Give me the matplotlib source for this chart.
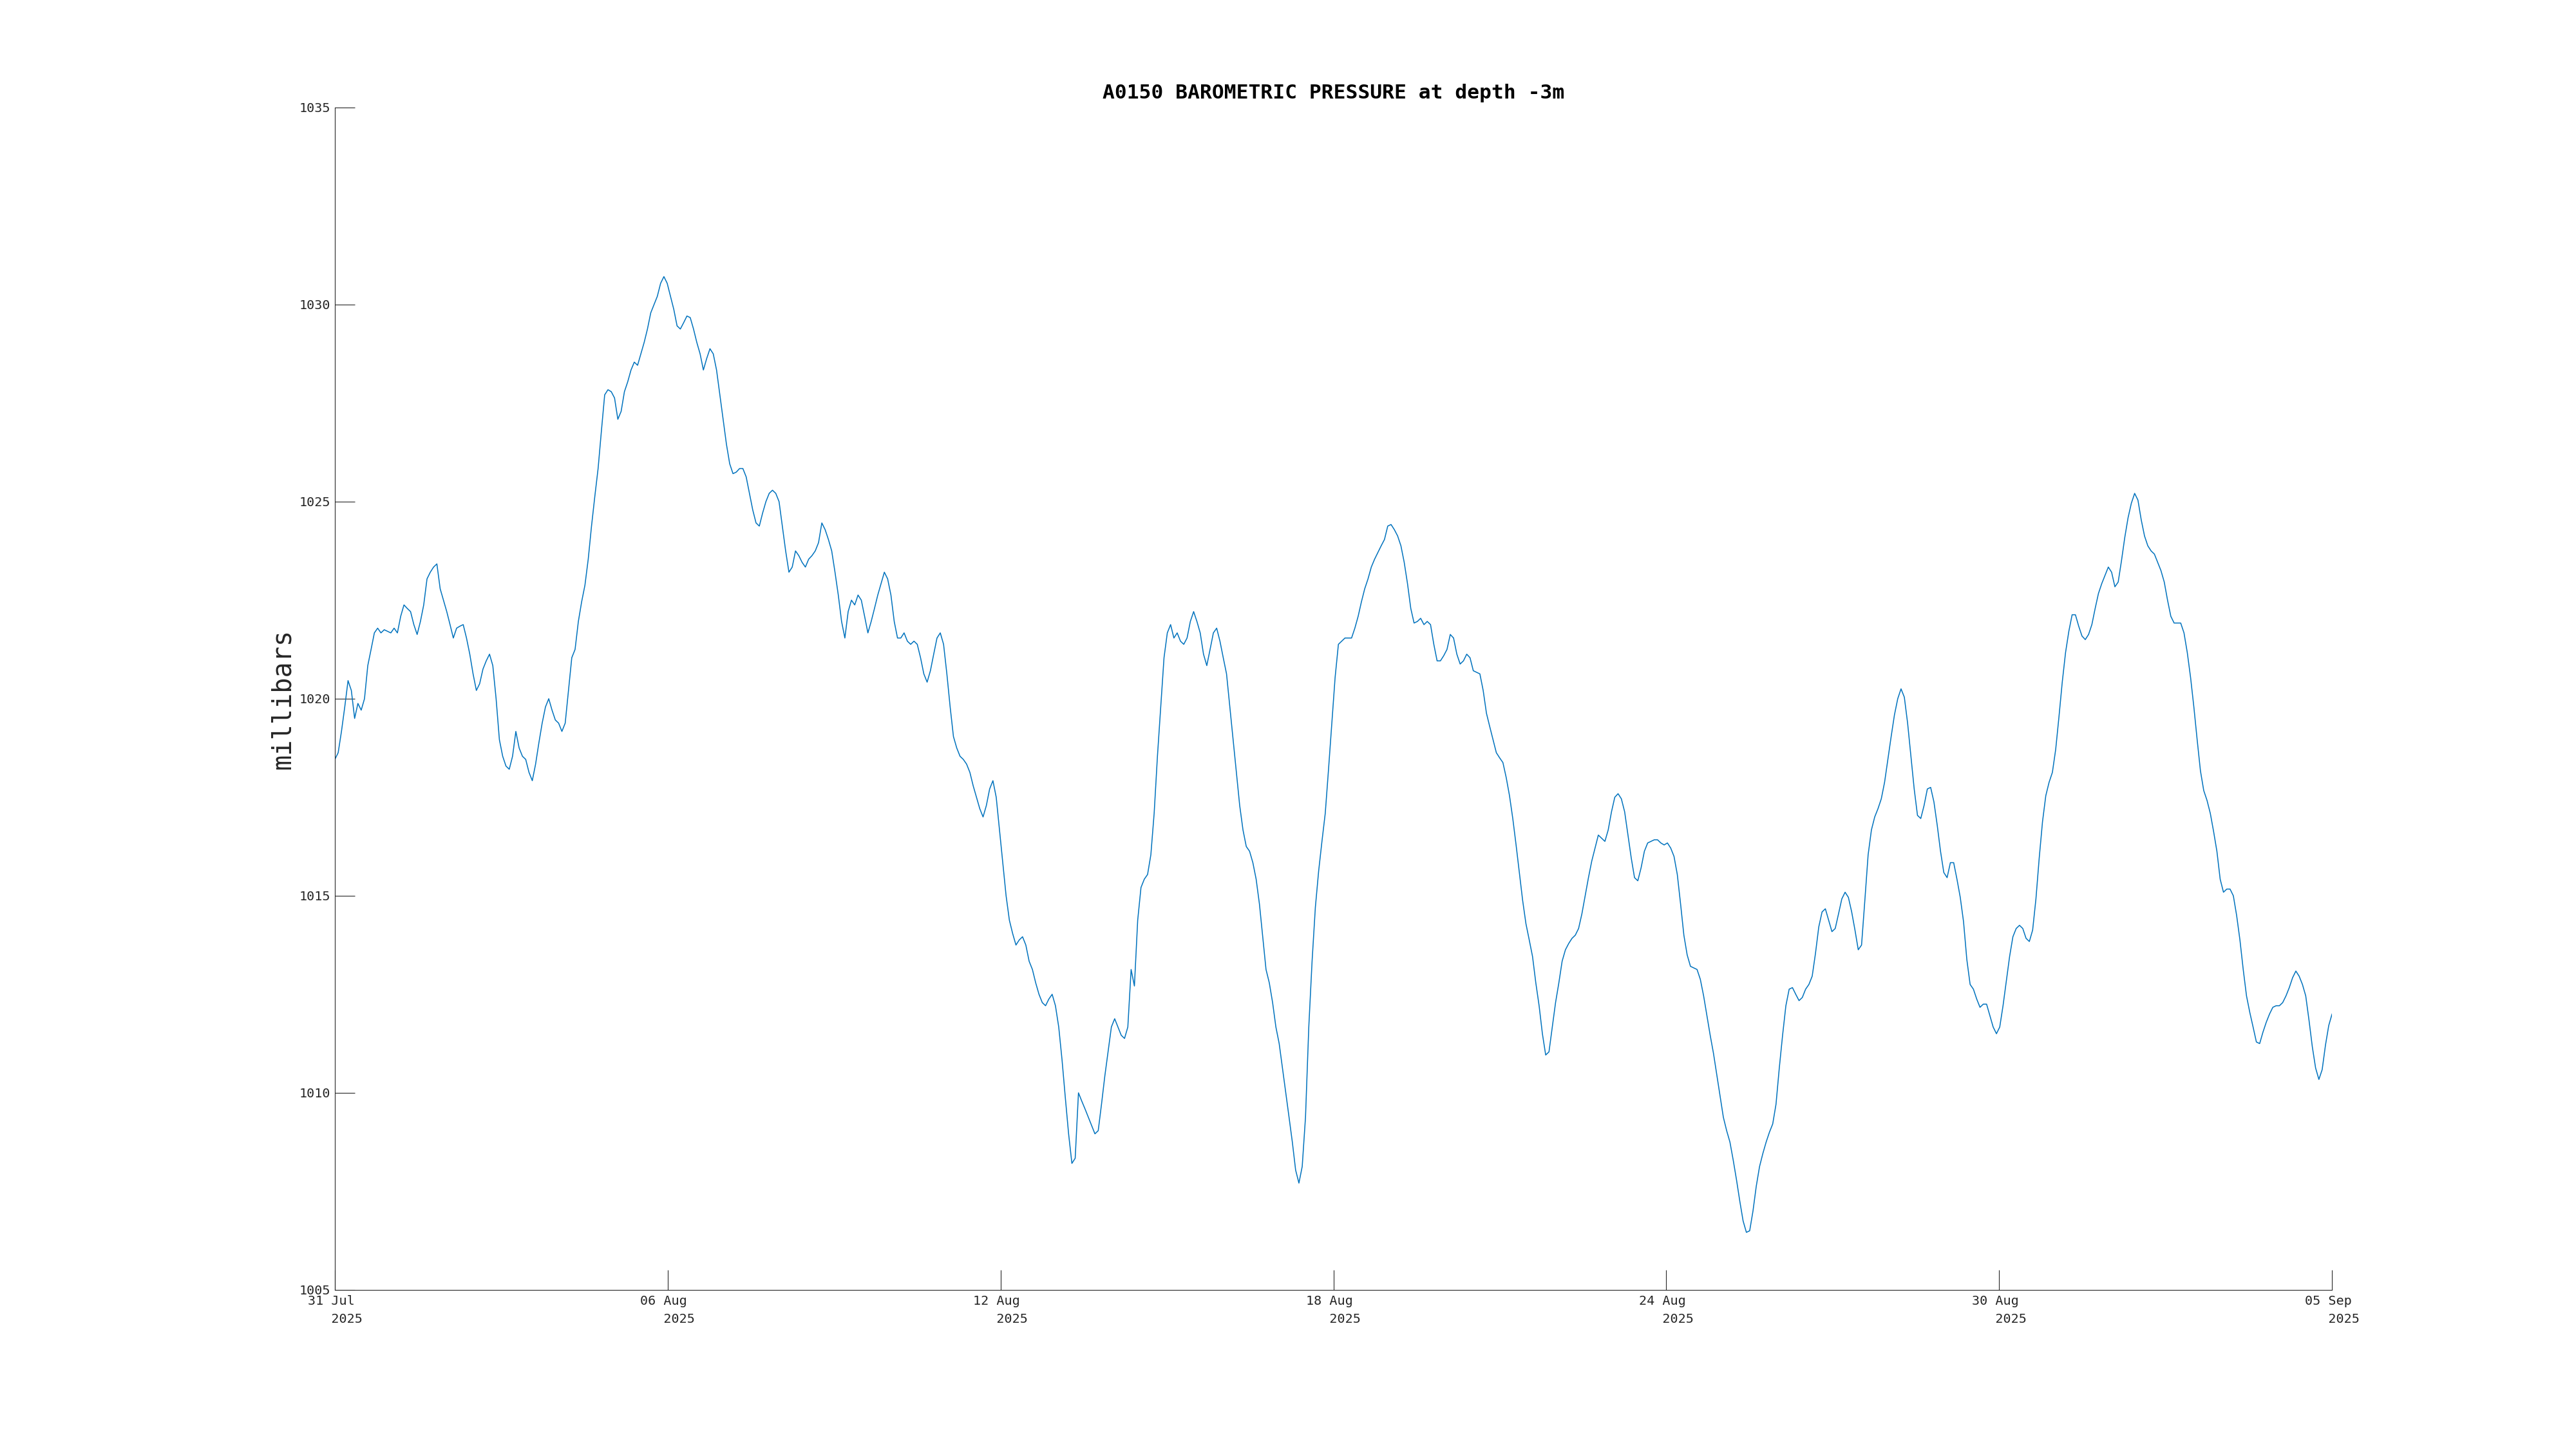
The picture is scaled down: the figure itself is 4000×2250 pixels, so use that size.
import matplotlib
matplotlib.use("Agg")
import matplotlib.pyplot as plt
import pandas as pd

title = "A0150 BAROMETRIC PRESSURE at depth -3m"
ylabel = "millibars"
start, end = "2025-07-31", "2025-09-05"
tick_dates = ["2025-07-31", "2025-08-06", "2025-08-12", "2025-08-18",
              "2025-08-24", "2025-08-30", "2025-09-05"]
tick_labels = ["31 Jul\n   2025", "06 Aug\n   2025", "12 Aug\n   2025", "18 Aug\n   2025",
               "24 Aug\n   2025", "30 Aug\n   2025", "05 Sep\n   2025"]
y_ticks = [1005, 1010, 1015, 1020, 1025, 1030, 1035]

# barometric pressure (mbar), evenly sampled from 31 Jul to 05 Sep 2025
pressure = [
    1018.46, 1018.63, 1019.17, 1019.79, 1020.46, 1020.21, 1019.50, 1019.88, 1019.71, 1020.00,
    1020.84, 1021.25, 1021.67, 1021.79, 1021.67, 1021.75, 1021.71, 1021.67, 1021.79, 1021.67,
    1022.09, 1022.38, 1022.29, 1022.21, 1021.88, 1021.63, 1021.96, 1022.38, 1023.04, 1023.21,
    1023.34, 1023.42, 1022.79, 1022.50, 1022.21, 1021.88, 1021.54, 1021.79, 1021.84, 1021.88,
    1021.54, 1021.13, 1020.63, 1020.21, 1020.38, 1020.75, 1020.96, 1021.13, 1020.84, 1020.00,
    1018.96, 1018.54, 1018.29, 1018.21, 1018.54, 1019.17, 1018.75, 1018.54, 1018.46, 1018.13,
    1017.92, 1018.34, 1018.88, 1019.38, 1019.79, 1020.00, 1019.71, 1019.46, 1019.38, 1019.17,
    1019.38, 1020.21, 1021.04, 1021.25, 1021.96, 1022.46, 1022.88, 1023.54, 1024.38, 1025.13,
    1025.84, 1026.79, 1027.71, 1027.84, 1027.79, 1027.63, 1027.09, 1027.29, 1027.79, 1028.04,
    1028.34, 1028.54, 1028.46, 1028.75, 1029.04, 1029.38, 1029.79, 1030.00, 1030.21, 1030.54,
    1030.71, 1030.54, 1030.21, 1029.88, 1029.46, 1029.38, 1029.54, 1029.71, 1029.67, 1029.38,
    1029.04, 1028.75, 1028.34, 1028.63, 1028.88, 1028.75, 1028.34, 1027.71, 1027.09, 1026.46,
    1025.96, 1025.71, 1025.75, 1025.84, 1025.84, 1025.63, 1025.21, 1024.79, 1024.46, 1024.38,
    1024.71, 1025.00, 1025.21, 1025.29, 1025.21, 1025.00, 1024.38, 1023.75, 1023.21, 1023.34,
    1023.75, 1023.63, 1023.46, 1023.34, 1023.54, 1023.63, 1023.75, 1023.96, 1024.46, 1024.29,
    1024.04, 1023.75, 1023.21, 1022.63, 1021.96, 1021.54, 1022.21, 1022.50, 1022.38, 1022.63,
    1022.50, 1022.09, 1021.67, 1021.96, 1022.29, 1022.63, 1022.92, 1023.21, 1023.04, 1022.63,
    1021.96, 1021.54, 1021.54, 1021.67, 1021.46, 1021.38, 1021.46, 1021.38, 1021.04, 1020.63,
    1020.42, 1020.71, 1021.13, 1021.54, 1021.67, 1021.38, 1020.63, 1019.79, 1019.04, 1018.75,
    1018.54, 1018.46, 1018.34, 1018.13, 1017.79, 1017.50, 1017.21, 1017.00, 1017.29, 1017.71,
    1017.92, 1017.50, 1016.67, 1015.84, 1015.00, 1014.38, 1014.04, 1013.75, 1013.88, 1013.96,
    1013.75, 1013.34, 1013.13, 1012.79, 1012.50, 1012.29, 1012.21, 1012.38, 1012.50, 1012.21,
    1011.67, 1010.84, 1009.88, 1008.96, 1008.21, 1008.34, 1010.00, 1009.79, 1009.59, 1009.38,
    1009.17, 1008.96, 1009.04, 1009.71, 1010.42, 1011.04, 1011.67, 1011.88, 1011.67, 1011.46,
    1011.38, 1011.67, 1013.13, 1012.71, 1014.38, 1015.21, 1015.42, 1015.54, 1016.04, 1017.09,
    1018.54, 1019.79, 1021.04, 1021.67, 1021.88, 1021.54, 1021.67, 1021.46, 1021.38, 1021.54,
    1021.96, 1022.21, 1021.96, 1021.67, 1021.13, 1020.84, 1021.25, 1021.67, 1021.79, 1021.46,
    1021.04, 1020.63, 1019.79, 1018.96, 1018.13, 1017.29, 1016.67, 1016.25, 1016.13, 1015.84,
    1015.42, 1014.79, 1013.96, 1013.13, 1012.79, 1012.29, 1011.67, 1011.25, 1010.63, 1010.00,
    1009.38, 1008.75, 1008.04, 1007.71, 1008.13, 1009.38, 1011.67, 1013.34, 1014.71, 1015.63,
    1016.38, 1017.09, 1018.21, 1019.38, 1020.54, 1021.38, 1021.46, 1021.54, 1021.54, 1021.54,
    1021.79, 1022.09, 1022.46, 1022.79, 1023.04, 1023.34, 1023.54, 1023.71, 1023.88, 1024.04,
    1024.38, 1024.42, 1024.29, 1024.13, 1023.88, 1023.46, 1022.92, 1022.29, 1021.92, 1021.96,
    1022.04, 1021.88, 1021.96, 1021.88, 1021.38, 1020.96, 1020.96, 1021.09, 1021.25, 1021.63,
    1021.54, 1021.13, 1020.88, 1020.96, 1021.13, 1021.04, 1020.71, 1020.67, 1020.63, 1020.21,
    1019.63, 1019.29, 1018.96, 1018.63, 1018.50, 1018.38, 1018.00, 1017.54, 1016.96, 1016.29,
    1015.59, 1014.88, 1014.29, 1013.88, 1013.46, 1012.79, 1012.21, 1011.50, 1010.96, 1011.04,
    1011.67, 1012.29, 1012.79, 1013.34, 1013.63, 1013.79, 1013.92, 1014.00, 1014.17, 1014.54,
    1015.00, 1015.46, 1015.88, 1016.21, 1016.54, 1016.46, 1016.38, 1016.67, 1017.13, 1017.50,
    1017.59, 1017.46, 1017.13, 1016.54, 1015.96, 1015.46, 1015.38, 1015.71, 1016.13, 1016.34,
    1016.38, 1016.42, 1016.42, 1016.34, 1016.29, 1016.34, 1016.21, 1016.00, 1015.54, 1014.79,
    1014.00, 1013.50, 1013.21, 1013.17, 1013.13, 1012.88, 1012.46, 1011.96, 1011.46, 1011.00,
    1010.46, 1009.92, 1009.38, 1009.04, 1008.75, 1008.29, 1007.79, 1007.25, 1006.75, 1006.46,
    1006.50, 1007.00, 1007.63, 1008.13, 1008.46, 1008.75, 1009.00, 1009.21, 1009.71, 1010.63,
    1011.46, 1012.21, 1012.63, 1012.67, 1012.50, 1012.34, 1012.42, 1012.63, 1012.75, 1012.96,
    1013.54, 1014.21, 1014.59, 1014.67, 1014.38, 1014.09, 1014.17, 1014.54, 1014.92, 1015.09,
    1014.96, 1014.59, 1014.13, 1013.63, 1013.75, 1014.88, 1016.04, 1016.67, 1017.00, 1017.21,
    1017.46, 1017.88, 1018.46, 1019.04, 1019.59, 1020.00, 1020.25, 1020.04, 1019.38, 1018.54,
    1017.71, 1017.04, 1016.96, 1017.29, 1017.71, 1017.75, 1017.38, 1016.79, 1016.13, 1015.59,
    1015.46, 1015.84, 1015.84, 1015.42, 1014.96, 1014.34, 1013.38, 1012.75, 1012.63, 1012.38,
    1012.17, 1012.25, 1012.25, 1011.96, 1011.67, 1011.50, 1011.67, 1012.21, 1012.84, 1013.46,
    1013.96, 1014.17, 1014.25, 1014.17, 1013.92, 1013.84, 1014.13, 1014.92, 1015.96, 1016.88,
    1017.54, 1017.88, 1018.13, 1018.71, 1019.54, 1020.42, 1021.17, 1021.71, 1022.13, 1022.13,
    1021.84, 1021.59, 1021.50, 1021.63, 1021.88, 1022.29, 1022.67, 1022.92, 1023.13, 1023.34,
    1023.21, 1022.84, 1022.96, 1023.50, 1024.09, 1024.59, 1024.96, 1025.21, 1025.04, 1024.54,
    1024.13, 1023.88, 1023.75, 1023.67, 1023.46, 1023.25, 1022.96, 1022.50, 1022.09, 1021.92,
    1021.92, 1021.92, 1021.67, 1021.17, 1020.54, 1019.79, 1018.96, 1018.17, 1017.67, 1017.42,
    1017.09, 1016.63, 1016.13, 1015.42, 1015.09, 1015.17, 1015.17, 1015.00, 1014.50, 1013.88,
    1013.13, 1012.46, 1012.04, 1011.67, 1011.29, 1011.25, 1011.54, 1011.79, 1012.00, 1012.17,
    1012.21, 1012.21, 1012.29, 1012.46, 1012.67, 1012.92, 1013.09, 1012.96, 1012.75, 1012.46,
    1011.84, 1011.17, 1010.63, 1010.34, 1010.59, 1011.21, 1011.71, 1012.00,
]

times = pd.date_range(start, end, periods=len(pressure))

plt.rcParams["font.family"] = ["DejaVu Sans Mono"]
fig = plt.figure(figsize=(40, 22.5), dpi=100)
ax = fig.add_axes([0.13, 0.1098, 0.7753, 0.8160])

ax.plot(times, pressure, color="#0072BD", linewidth=1.1)

ax.set_xlim(pd.Timestamp(start), pd.Timestamp(end))
ax.set_ylim(1005, 1035)
ax.set_yticks(y_ticks)
ax.set_yticklabels([str(v) for v in y_ticks])
ax.set_xticks([pd.Timestamp(d) for d in tick_dates])
ax.set_xticklabels(tick_labels, multialignment="left", linespacing=1.55)

for s in ["top", "right"]:
    ax.spines[s].set_visible(False)
for s in ["left", "bottom"]:
    ax.spines[s].set_color("#262626")
    ax.spines[s].set_linewidth(0.8)

ax.tick_params(axis="both", direction="in", length=22.3, width=0.8,
               color="#262626", labelcolor="#262626", labelsize=14.5)
ax.tick_params(axis="y", pad=5)
ax.tick_params(axis="x", pad=6)

ax.set_title(title, fontsize=22.5, fontweight="bold", pad=10, color="black")
ax.set_ylabel(ylabel, fontsize=29, color="#262626")
ax.yaxis.set_label_coords(-0.0197, 0.5)

fig.savefig("out.png", dpi=100, facecolor="white")
